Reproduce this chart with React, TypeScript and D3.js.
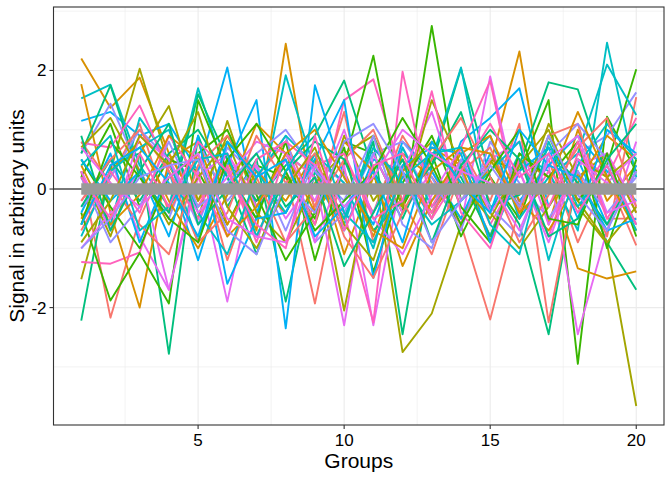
import * as d3 from 'd3';

// group index along the x axis
const groups = d3.range(1, 21);

// one array per colour family, four traces each
const redSeries = [
  [0.3, -2.17, -0.5, 0.6, -0.2, 0.4, -0.8, 0.3, -1.93, 0.5, -0.4, 0.9, 0.1, -0.6, -2.2, -0.3, 0.5, -0.9, 0.2, -0.95],
  [-0.7, 0.2, 1.1, -0.4, 0.6, -1.2, 0.2, 0.8, -0.3, 1.3, -0.9, 0.4, -0.5, 0.7, -0.2, 1.1, -2.25, 0.3, -0.8, 1.55],
  [0.8, 0.1, -0.6, -1.1, 0.4, 0.9, 0.2, -0.9, -0.3, 0.5, 1.0, -0.2, -1.1, 0.3, 0.7, -0.4, 0.9, 1.1, -0.5, -0.5],
  [-0.2, 0.5, 1.0, 0.3, -0.9, -0.4, 0.9, 0.1, 0.6, -0.8, -1.5, -0.4, 0.5, 1.2, 0.2, -0.9, -0.1, 0.7, 1.2, -0.3],
];
const orangeSeries = [
  [2.2, 1.37, 1.88, 0.6, -0.3, 0.5, -0.7, 2.45, -0.4, 0.3, -0.8, 0.6, 0.2, -0.5, 0.4, 2.32, -0.6, 1.0, -0.2, 0.4],
  [1.77, -0.4, -2.0, 0.5, 0.8, -0.6, 0.3, -0.2, 0.6, -1.1, 0.2, -0.3, 0.7, 0.4, -0.9, 0.5, 0.2, -1.34, -1.51, -1.39],
  [-0.5, 0.3, 0.8, -0.2, -1.0, -0.1, 1.1, 0.6, -0.4, 0.8, 0.3, -1.3, -0.2, 0.6, 0.9, -0.2, -0.7, 0.1, 0.9, 0.5],
  [0.4, -0.6, -0.1, 0.9, 0.5, -0.8, -0.3, 0.6, 1.0, 0.2, -0.7, -1.0, 0.3, 0.7, 0.6, -0.4, 0.1, 1.3, 0.2, -0.7],
];
const oliveSeries = [
  [-1.52, 0.3, 2.03, 0.4, -0.5, 1.15, -0.3, 0.2, -0.6, 0.9, -0.2, 0.5, -0.4, 0.3, -0.8, 0.6, 0.2, -0.3, -0.92, -3.66],
  [0.3, -0.8, 0.6, 1.4, -0.2, 0.9, 0.1, -0.4, 0.5, -2.05, 0.4, -2.75, -2.1, -0.6, 0.5, -0.3, 1.1, 0.2, 0.6, -0.4],
  [0.7, 1.2, 0.3, -0.6, 0.2, 0.8, -0.4, -0.9, 0.1, 0.6, 0.9, -0.3, 1.5, 0.4, -0.4, -1.0, -0.3, 0.5, 0.2, 0.6],
  [-0.9, -0.2, 0.9, 0.4, 1.3, -0.3, -1.0, 0.0, 0.7, -0.6, -1.2, 0.3, 0.8, 0.1, -0.5, 0.4, 1.0, -0.2, -0.9, -0.3],
];
const greenSeries = [
  [0.2, 1.1, -0.3, 0.5, 0.3, -0.6, 0.4, 0.2, -0.5, 0.8, 0.6, -0.4, 2.75, -0.2, 0.5, 0.3, 1.5, -2.95, 1.22, 0.3],
  [-0.4, -1.88, -1.08, -1.93, 1.5, 0.3, -0.5, 0.8, -1.2, 0.4, 2.25, -0.3, 0.6, -0.8, 0.2, -0.5, 0.9, -0.2, 0.4, 2.02],
  [0.5, -0.3, -1.0, 0.2, 0.6, 1.0, -0.1, -1.2, -0.4, 0.7, -1.4, 0.1, 0.9, -0.3, -0.9, 0.6, 0.2, 0.8, -1.0, 0.5],
  [-0.6, 0.8, 0.2, -0.5, -0.9, 0.5, 1.1, 0.3, -0.7, -0.2, 0.3, 1.2, 0.4, -0.6, 0.3, 1.0, -0.5, -0.6, 0.6, -0.8],
];
const emeraldSeries = [
  [-2.22, 0.4, 0.6, -2.78, 0.9, -0.3, 0.5, -1.9, 0.3, -0.5, 0.8, -2.45, 0.4, 2.03, 0.2, -0.6, -2.45, 0.3, -0.9, -1.7],
  [0.6, 1.75, 0.2, -0.4, 1.6, 0.5, -0.2, 0.4, 0.9, 1.83, 0.3, -0.5, 0.6, 0.2, -0.8, 0.4, 1.8, 1.68, 0.2, -0.6],
  [-0.3, 0.5, -0.2, 0.6, 1.0, 0.2, -1.1, 0.3, 0.8, 0.5, -0.7, -0.2, 0.4, 1.3, -0.3, -0.1, 0.7, 0.1, -0.6, 0.3],
  [0.9, -0.7, 0.3, 1.1, -0.6, 0.0, 0.6, -0.3, 0.2, -1.3, -0.4, 0.5, -0.9, 0.4, 1.0, 0.5, -0.8, -0.5, 0.5, 1.1],
];
const tealSeries = [
  [1.53, 1.76, 0.4, -0.3, 1.7, 0.2, -0.5, 1.92, 0.3, -0.6, 0.9, -0.2, 0.5, 2.05, -0.4, 0.6, 0.3, -0.7, 2.47, 0.2],
  [0.2, -0.6, 1.2, 0.5, -0.9, 0.8, 0.3, -0.4, 0.6, 0.1, -1.0, 0.7, -0.3, 0.4, 0.9, -0.5, 0.2, 0.6, 2.1, 1.25],
  [-0.8, 0.3, 0.7, 1.0, -0.4, -1.1, 0.2, 0.9, 0.4, -0.5, 0.7, 0.1, -0.6, -0.2, 0.3, 0.8, -1.2, 0.4, 1.1, 0.5],
  [0.4, 0.9, -0.7, -0.3, 0.5, 0.6, -0.8, 0.3, 1.1, -0.4, -0.9, 0.2, 0.6, 0.7, -0.6, -1.1, 0.8, -0.3, 0.4, -0.7],
];
const azureSeries = [
  [1.15, 1.3, 0.9, 1.1, 0.3, 2.05, -0.4, 0.6, 0.2, -0.7, 0.5, 0.3, -0.5, 0.8, 1.2, 1.7, -0.3, 0.5, -0.6, 0.4],
  [-0.4, 0.6, -0.9, 0.3, -1.2, 0.4, 1.5, -2.35, 1.75, 0.2, -0.6, 0.8, 0.3, -0.5, 0.6, -0.2, 0.4, 0.9, 0.3, -0.2],
  [0.5, -0.2, 0.3, -0.8, 0.9, -1.6, -0.5, -0.4, 0.5, 1.5, -1.5, 0.4, 0.7, 0.6, -0.9, 0.3, 0.7, -0.5, 1.0, 0.6],
  [-0.6, 0.4, 0.7, 0.1, -0.8, 0.8, 0.2, 0.5, -0.8, -0.3, 0.3, -0.9, 0.8, 0.1, -0.4, 1.0, 0.4, 0.2, -0.7, -0.5],
];
const periwinkleSeries = [
  [0.6, 1.44, 0.3, -0.5, 0.8, -0.2, 0.4, -0.7, 0.5, 0.1, -0.4, 0.7, -0.2, 0.3, -0.8, 0.5, 0.2, 0.6, 0.9, 1.63],
  [-0.3, 0.2, 1.0, 0.5, -0.6, 0.7, 0.2, 0.9, -0.9, -0.4, 0.6, 0.8, 0.2, -0.7, 0.8, 0.1, -0.5, 0.3, -0.4, 0.2],
  [0.2, -0.9, -0.3, 0.8, -0.3, 0.1, 0.6, 1.0, 0.3, -0.2, 0.9, -0.6, -1.0, 0.5, -0.3, -0.8, 0.6, 1.1, 0.5, -0.6],
  [-1.0, -0.5, 0.2, 0.4, 0.5, -0.7, -1.1, 0.1, -0.4, 0.8, 1.1, 0.3, -0.9, -0.2, 0.4, -0.3, 0.9, -0.1, -0.7, 0.3],
];
const violetSeries = [
  [-0.2, 0.5, -0.8, -1.7, 0.3, -1.9, 0.4, -0.5, 0.2, -2.3, 0.6, -0.4, 0.3, -0.6, 1.9, -0.3, 0.4, -2.45, -0.7, 0.8],
  [-1.0, -0.4, 0.3, -1.7, 0.2, 0.6, -0.3, 0.5, -0.9, 0.4, -2.3, 0.3, 1.3, -0.2, 0.5, 0.8, -0.6, 0.4, 0.6, -0.3],
  [0.3, -0.7, 0.9, 0.5, -0.4, 0.2, 0.8, 0.6, -0.2, 1.0, -0.5, -1.1, -0.1, 0.7, -0.4, 0.3, -0.9, 0.5, 0.1, 0.6],
  [0.7, 0.1, -0.3, 0.2, 0.6, -0.5, -0.8, -0.9, 0.4, -0.3, 0.2, 1.0, 0.6, 0.3, 0.1, -0.7, 0.5, 0.9, -0.4, -0.2],
];
const pinkSeries = [
  [-1.23, -1.26, -1.07, 0.4, -0.3, 0.6, -0.2, 0.5, -0.6, 1.5, 1.85, 0.2, -0.4, 0.7, 1.83, -0.5, 0.3, -0.2, 0.6, -0.4],
  [0.78, 0.7, 1.41, 0.3, -0.5, 0.4, -0.9, 0.6, 0.2, -0.4, -2.25, 1.98, -0.3, 0.5, -0.6, 0.3, -0.8, 0.6, 0.2, 1.2],
  [-0.6, 0.3, -0.4, 0.9, 0.2, -0.8, 0.5, 0.8, 0.4, 0.6, -0.5, -0.2, 1.65, -0.4, -1.0, 0.5, -0.3, 0.8, -0.5, 0.3],
  [0.2, -0.5, 0.6, -0.3, 0.8, 0.3, -0.6, -1.0, 0.9, -0.7, 0.4, 0.6, -0.5, 0.3, 1.1, 0.2, 0.6, -0.4, 0.4, -0.6],
];

// the thick grey summary trace, flat at zero
const meanSignal = [0, 0, 0, 0, 0, 0, 0, 0, 0, 0, 0, 0, 0, 0, 0, 0, 0, 0, 0, 0];

const xTicks = [5, 10, 15, 20];
const yTicks = [-2, 0, 2];

const families = [
  redSeries, orangeSeries, oliveSeries, greenSeries, emeraldSeries,
  tealSeries, azureSeries, periwinkleSeries, violetSeries, pinkSeries,
];

// ggplot2 default hue palette for ten levels
const palette = [
  '#F8766D', '#D89000', '#A3A500', '#39B600', '#00BF7D',
  '#00BFC4', '#00B0F6', '#9590FF', '#E76BF3', '#FF62BC',
];

export default function App() {
  const width = 672;
  const height = 480;
  const left = 53.5;
  const right = 664;
  const top = 7;
  const bottom = 425;

  const x = d3.scaleLinear().domain([1 - 0.95, 20 + 0.95]).range([left, right]);
  const yMin = -3.66;
  const yMax = 2.75;
  const pad = (yMax - yMin) * 0.05;
  const y = d3.scaleLinear().domain([yMin - pad, yMax + pad]).range([bottom, top]);

  const line = d3.line<number>()
    .x((_d, i) => x(groups[i]))
    .y(d => y(d));

  const traces = families.flatMap((fam, fi) =>
    fam.map((values, si) => ({ values, color: palette[fi], key: `${fi}-${si}` }))
  );
  // interleave so colours mix in drawing order
  const order = d3.range(4).flatMap(si => families.map((_f, fi) => traces[fi * 4 + si]));

  const xMinor = [2.5, 7.5, 12.5, 17.5];
  const yMinor = [-3, -1, 1, 3];
  const font = 'Liberation Sans, Arial, Helvetica, sans-serif';

  return (
    <svg width={width} height={height} style={{ position: 'absolute', left: 0, top: 0 }}
      fontFamily={font}>
      <rect width={width} height={height} fill="white" />
      <g stroke="#EBEBEB">
        {xMinor.map(v => <line key={`xm${v}`} x1={x(v)} x2={x(v)} y1={top} y2={bottom} strokeWidth={0.6} />)}
        {yMinor.map(v => <line key={`ym${v}`} x1={left} x2={right} y1={y(v)} y2={y(v)} strokeWidth={0.6} />)}
        {xTicks.map(v => <line key={`xM${v}`} x1={x(v)} x2={x(v)} y1={top} y2={bottom} strokeWidth={1.1} />)}
        {yTicks.map(v => <line key={`yM${v}`} x1={left} x2={right} y1={y(v)} y2={y(v)} strokeWidth={1.1} />)}
      </g>
      <g fill="none" strokeWidth={1.9} strokeLinejoin="round">
        {order.map(t => <path key={t.key} d={line(t.values) ?? ''} stroke={t.color} />)}
      </g>
      <line x1={left} x2={right} y1={y(0)} y2={y(0)} stroke="black" strokeWidth={1.1} />
      <path d={line(meanSignal) ?? ''} fill="none" stroke="#999999" strokeWidth={11.5} />
      <rect x={left} y={top} width={right - left} height={bottom - top}
        fill="none" stroke="#333333" strokeWidth={1.1} />
      {xTicks.map(v => (
        <g key={`xt${v}`}>
          <line x1={x(v)} x2={x(v)} y1={bottom} y2={bottom + 4} stroke="#333333" strokeWidth={1.1} />
          <text x={x(v)} y={bottom + 21} textAnchor="middle" fontSize={17} fill="black">{v}</text>
        </g>
      ))}
      {yTicks.map(v => (
        <g key={`yt${v}`}>
          <line x1={left - 4} x2={left} y1={y(v)} y2={y(v)} stroke="#333333" strokeWidth={1.1} />
          <text x={left - 7} y={y(v) + 6} textAnchor="end" fontSize={17} fill="black">{v}</text>
        </g>
      ))}
      <text x={(left + right) / 2} y={468} textAnchor="middle" fontSize={21} fill="black">Groups</text>
      <text transform={`translate(24,${(top + bottom) / 2}) rotate(-90)`} textAnchor="middle"
        fontSize={21} fill="black">Signal in arbitrary units</text>
    </svg>
  );
}
